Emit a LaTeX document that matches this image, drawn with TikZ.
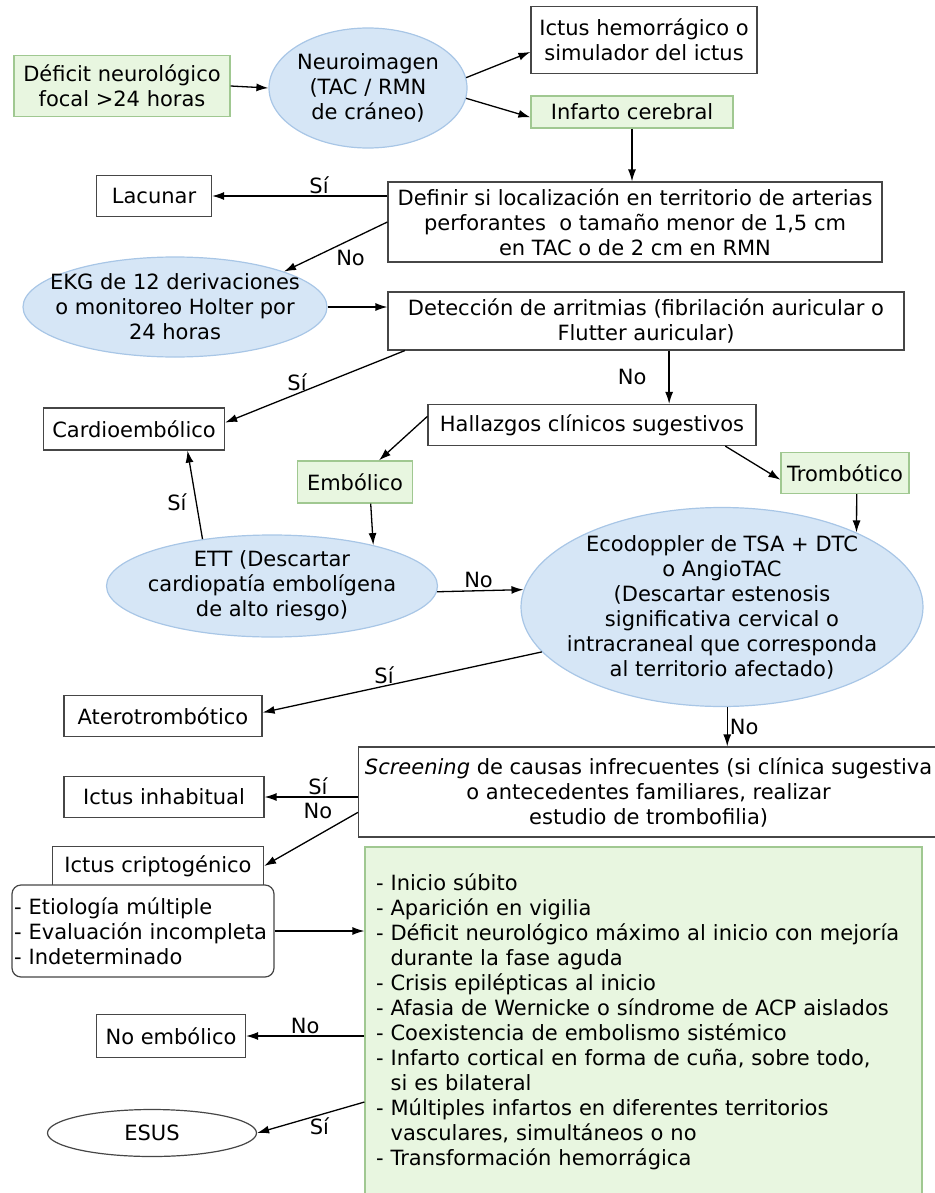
\documentclass[tikz,border=0pt]{standalone}
\usepackage{fontspec}
\setmainfont{DejaVu Sans}
\usepackage{xcolor}
\usepackage{tikz}
\usetikzlibrary{shapes,arrows,positioning,calc,arrows.meta}

\definecolor{verdeF}{RGB}{232,246,224}
\definecolor{verdeL}{RGB}{160,200,145}
\definecolor{azulF}{RGB}{214,230,246}
\definecolor{azulL}{RGB}{168,198,230}
\definecolor{gris}{RGB}{70,70,70}

\begin{document}
\begin{tikzpicture}[x=1pt, y=-1pt,
    font=\fontsize{21}{25}\selectfont,
    caja/.style={draw=gris, line width=1.2pt, fill=white, align=center, inner sep=2pt},
    verde/.style={caja, draw=verdeL, fill=verdeF},
    elip/.style={ellipse, draw=azulL, fill=azulF, line width=1.2pt, inner sep=0pt},
    flecha/.style={-{Latex[length=12pt,width=8pt]}, line width=1.3pt},
    etq/.style={inner sep=2pt}]
    \useasboundingbox (0,0) rectangle (934,1193);

    \node[verde, minimum width=216pt, minimum height=61pt] (deficit) at (122,86) {Déficit neurológico\\focal >24 horas};
    \node[elip, minimum width=198pt, minimum height=120pt] (neuro) at (368,88) {};
    \node[align=center] (neuroT) at (neuro) {Neuroimagen\\(TAC / RMN\\de cráneo)};
    \node[caja, minimum width=226pt, minimum height=67pt] (hemo) at (644,40) {Ictus hemorrágico o\\simulador del ictus};
    \node[verde, minimum width=202pt, minimum height=32pt] (infarto) at (632,112) {Infarto cerebral};
    \node[caja, minimum width=494pt, minimum height=80pt] (definir) at (635,222) {Definir si localización en territorio de arterias\\perforantes\ \ o tamaño menor de 1,5 cm\\en TAC o de 2 cm en RMN};
    \node[caja, minimum width=115pt, minimum height=41pt] (lacunar) at (154,196) {Lacunar};
    \node[elip, minimum width=304pt, minimum height=100pt] (ekg) at (175,307) {};
    \node[align=center] (ekgT) at (ekg) {EKG de 12 derivaciones\\o monitoreo Holter por\\24 horas};
    \node[caja, minimum width=516pt, minimum height=58pt] (deteccion) at (646,321) {Detección de arritmias (fibrilación auricular o\\Flutter auricular)};
    \node[caja, minimum width=181pt, minimum height=42pt] (cardio) at (134,429) {Cardioembólico};
    \node[caja, minimum width=328pt, minimum height=41pt] (hallazgos) at (592,425) {Hallazgos clínicos sugestivos};
    \node[verde, minimum width=115pt, minimum height=42pt] (embolico) at (355,482) {Embólico};
    \node[verde, minimum width=128pt, minimum height=41pt] (trombotico) at (845,473) {Trombótico};
    \node[elip, minimum width=331pt, minimum height=102pt] (ett) at (272,586) {};
    \node[align=center] (ettT) at (ett) {ETT (Descartar\\cardiopatía embolígena\\de alto riesgo)};
    \node[elip, minimum width=402pt, minimum height=199pt] (eco) at (722,607) {};
    \node[align=center] (ecoT) at (eco) {Ecodoppler de TSA + DTC\\o AngioTAC\\(Descartar estenosis\\significativa cervical o\\intracraneal que corresponda\\al territorio afectado)};
    \node[caja, minimum width=198pt, minimum height=41pt] (atero) at (163,716) {Aterotrombótico};
    \node[caja, minimum width=580pt, minimum height=90pt, anchor=west] (screening) at (358,792) {\textit{Screening} de causas infrecuentes (si clínica sugestiva\\o antecedentes familiares, realizar\\estudio de trombofilia)};
    \node[caja, minimum width=200pt, minimum height=41pt] (inhabitual) at (164,797) {Ictus inhabitual};
    \node[caja, minimum width=211pt, minimum height=39pt] (cripto) at (158,866) {Ictus criptogénico};
    \node[caja, rounded corners=9pt, text width=258pt, align=left, inner xsep=2pt, minimum height=92pt] (etiologia) at (143,931) {- Etiología múltiple\\- Evaluación incompleta\\- Indeterminado};
    \node[verde, text width=535pt, align=left, inner xsep=11pt, minimum height=350pt] (criterios) at (643.5,1022) {- Inicio súbito\\- Aparición en vigilia\\- Déficit neurológico máximo al inicio con mejoría\\\hphantom{- }durante la fase aguda\\- Crisis epilépticas al inicio\\- Afasia de Wernicke o síndrome de ACP aislados\\- Coexistencia de embolismo sistémico\\- Infarto cortical en forma de cuña, sobre todo,\\\hphantom{- }si es bilateral\\- Múltiples infartos en diferentes territorios\\\hphantom{- }vasculares, simultáneos o no\\- Transformación hemorrágica};
    \node[caja, minimum width=149pt, minimum height=43pt] (noemb) at (171,1036) {No embólico};
    \node[caja, ellipse, minimum width=209pt, minimum height=47pt] (esus) at (152,1133) {ESUS};

    \draw[flecha] (deficit.east) -- (neuro.west);
    \draw[flecha] (neuro.6) -- (hemo.186);
    \draw[flecha] (neuro.-6) -- (infarto.183);
    \draw[flecha] (infarto.south) -- (infarto.south |- definir.north);
    \draw[flecha] (definir.west |- lacunar.east) -- node[etq, above, pos=0.39] (l1) {Sí} (lacunar.east);
    \draw[flecha] (definir.west) -- node[etq, below right, pos=0.52] (l2) {No} (ekg.18);
    \draw[flecha] (ekg.east) -- (ekg.east -| deteccion.west);
    \draw[flecha] (deteccion.187.6) -- node[etq, above, pos=0.6] (l3) {Sí} (cardio.4);
    \draw[flecha] (deteccion.-52.8) -- node[etq, left=20pt] (l4) {No} (deteccion.-52.8 |- hallazgos.north);
    \draw[flecha] (hallazgos.177.6) -- (embolico.42.4);
    \draw[flecha] (hallazgos.-9.5) -- (trombotico.186.2);
    \draw[flecha] (embolico.-54.5) -- (ett.22.8);
    \draw[flecha] (trombotico.-61.8) -- (eco.29);
    \draw[flecha] (ett.146.1) -- node[etq, left=7pt, pos=0.42] (l5) {Sí} (cardio.-22.4);
    \draw[flecha] (ett.-2.1) -- node[etq, above, pos=0.48] (l6) {No} (eco.175.7);
    \draw[flecha] (eco.194.9) -- node[etq, above, pos=0.565] (l7) {Sí} (atero.2);
    \draw[flecha] (eco.-87.1) -- node[etq, right] (l8) {No} (eco.-87.1 |- screening.north);
    \draw[flecha] (screening.west |- inhabitual.east) -- node[etq, above, pos=0.43] (l9) {Sí} node[etq, below=4pt, pos=0.43] (l10) {No} (inhabitual.east);
    \draw[flecha] (screening.184.4) -- (cripto.east);
    \draw[flecha] (etiologia.east) -- (etiologia.east -| criterios.west);
    \draw[flecha] (criterios.west |- noemb.east) -- node[etq, above] (l11) {No} (noemb.east);
    \draw[flecha] (criterios.196) -- node[etq, below, pos=0.42] (l12) {Sí} (esus.east);
\end{tikzpicture}
\end{document}
